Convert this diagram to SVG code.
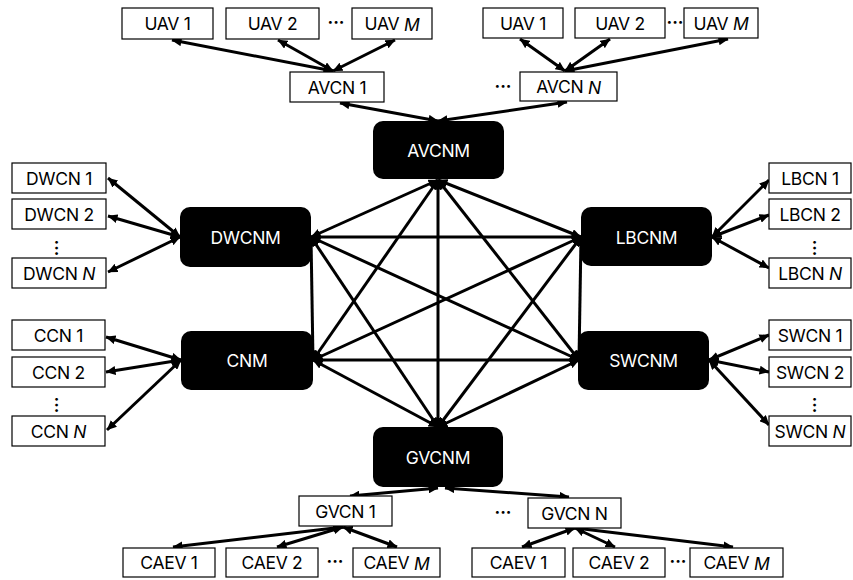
<svg xmlns="http://www.w3.org/2000/svg" width="853" height="580" viewBox="0 0 853 580">
  <defs>
    <marker id="ah" viewBox="0 0 10 9" refX="9.5" refY="4.5" markerWidth="10" markerHeight="9" markerUnits="userSpaceOnUse" orient="auto-start-reverse">
      <path d="M0,0 L10,4.5 L0,9 z" fill="#000"/>
    </marker>
    <style>
      .box { fill: #fff; stroke: #000; stroke-width: 1.2; }
      .mgr { fill: #000; }
      .t { font-family: Inter, "Liberation Sans", sans-serif; font-size: 17.5px; fill: #000; text-anchor: middle; dominant-baseline: central; letter-spacing: -0.3px; }
      .tw { font-family: Inter, "Liberation Sans", sans-serif; font-size: 17.5px; fill: #fff; text-anchor: middle; dominant-baseline: central; letter-spacing: -0.3px; }
      .dots { font-family: Inter, "Liberation Sans", sans-serif; font-size: 17px; font-weight: bold; fill: #000; text-anchor: middle; dominant-baseline: central; }
      .e { stroke: #000; stroke-width: 3; fill: none; marker-start: url(#ah); marker-end: url(#ah); }
      .it { font-style: italic; }
    </style>
  </defs>

  <!-- connectors -->
  <g id="connectors">
    <!-- manager mesh -->
    <line class="e" x1="438" y1="180" x2="438" y2="427"/>
    <line class="e" x1="438" y1="180" x2="311" y2="237"/>
    <line class="e" x1="438" y1="180" x2="581" y2="237"/>
    <line class="e" x1="438" y1="180" x2="313" y2="360"/>
    <line class="e" x1="438" y1="180" x2="579" y2="360"/>
    <line class="e" x1="311" y1="237" x2="581" y2="237"/>
    <line class="e" x1="311" y1="237" x2="313" y2="360"/>
    <line class="e" x1="311" y1="237" x2="579" y2="360"/>
    <line class="e" x1="311" y1="237" x2="438" y2="427"/>
    <line class="e" x1="581" y1="237" x2="313" y2="360"/>
    <line class="e" x1="581" y1="237" x2="579" y2="360"/>
    <line class="e" x1="581" y1="237" x2="438" y2="427"/>
    <line class="e" x1="313" y1="360" x2="579" y2="360"/>
    <line class="e" x1="313" y1="360" x2="438" y2="427"/>
    <line class="e" x1="579" y1="360" x2="438" y2="427"/>

    <!-- aerial branch -->
    <line class="e" x1="340" y1="103" x2="438" y2="121"/>
    <line class="e" x1="567" y1="102" x2="438" y2="121"/>
    <line class="e" x1="333" y1="71" x2="172" y2="40"/>
    <line class="e" x1="333" y1="71" x2="278" y2="40"/>
    <line class="e" x1="333" y1="71" x2="395" y2="40"/>
    <line class="e" x1="565" y1="71" x2="520" y2="39"/>
    <line class="e" x1="565" y1="71" x2="610" y2="39"/>
    <line class="e" x1="565" y1="71" x2="728" y2="39"/>

    <!-- DWCNM branch -->
    <line class="e" x1="180" y1="237" x2="108" y2="178"/>
    <line class="e" x1="180" y1="237" x2="108" y2="216"/>
    <line class="e" x1="180" y1="237" x2="108" y2="272"/>

    <!-- CNM branch -->
    <line class="e" x1="181" y1="360" x2="106" y2="337"/>
    <line class="e" x1="181" y1="360" x2="106" y2="372"/>
    <line class="e" x1="181" y1="360" x2="107" y2="430"/>

    <!-- LBCNM branch -->
    <line class="e" x1="712" y1="237" x2="769" y2="180"/>
    <line class="e" x1="712" y1="237" x2="769" y2="215"/>
    <line class="e" x1="712" y1="237" x2="769" y2="268"/>

    <!-- SWCNM branch -->
    <line class="e" x1="709" y1="360" x2="769" y2="335"/>
    <line class="e" x1="709" y1="360" x2="769" y2="372"/>
    <line class="e" x1="709" y1="360" x2="769" y2="425"/>

    <!-- ground branch -->
    <line class="e" x1="438" y1="488" x2="350" y2="496"/>
    <line class="e" x1="445" y1="488" x2="569" y2="497"/>
    <line class="e" x1="343" y1="527" x2="173" y2="547"/>
    <line class="e" x1="343" y1="527" x2="277" y2="547"/>
    <line class="e" x1="343" y1="527" x2="397" y2="547"/>
    <line class="e" x1="575" y1="528" x2="522" y2="547"/>
    <line class="e" x1="575" y1="528" x2="615" y2="547"/>
    <line class="e" x1="575" y1="528" x2="733" y2="547"/>
  </g>

  <!-- managers -->
  <g id="AVCNM"><rect class="mgr" x="373" y="121" width="131" height="58" rx="10"/><text class="tw" x="438.5" y="150">AVCNM</text></g>
  <g id="DWCNM"><rect class="mgr" x="180" y="207" width="131" height="60" rx="10"/><text class="tw" x="245.5" y="237">DWCNM</text></g>
  <g id="LBCNM"><rect class="mgr" x="581" y="207" width="131" height="59" rx="10"/><text class="tw" x="646.5" y="237">LBCNM</text></g>
  <g id="CNM"><rect class="mgr" x="181" y="331" width="132" height="59" rx="10"/><text class="tw" x="247" y="360">CNM</text></g>
  <g id="SWCNM"><rect class="mgr" x="578" y="331" width="131" height="59" rx="10"/><text class="tw" x="643.5" y="360">SWCNM</text></g>
  <g id="GVCNM"><rect class="mgr" x="373" y="427" width="130" height="60" rx="10"/><text class="tw" x="438" y="457">GVCNM</text></g>

  <!-- aerial nodes -->
  <g id="AVCN1"><rect class="box" x="290" y="72" width="94" height="30"/><text class="t" x="337" y="87">AVCN 1</text></g>
  <g id="AVCNN"><rect class="box" x="520" y="72" width="97" height="29"/><text class="t" x="568.5" y="86.5">AVCN <tspan class="it">N</tspan></text></g>
  <text class="dots" x="503" y="86">···</text>
  <g id="UAV1a"><rect class="box" x="122" y="8" width="91" height="31"/><text class="t" x="167.5" y="23.5">UAV 1</text></g>
  <g id="UAV2a"><rect class="box" x="226" y="8" width="93" height="31"/><text class="t" x="272.5" y="23.5">UAV 2</text></g>
  <text class="dots" x="336" y="22">···</text>
  <g id="UAVMa"><rect class="box" x="352" y="8" width="80" height="31"/><text class="t" x="392" y="23.5">UAV <tspan class="it">M</tspan></text></g>
  <g id="UAV1b"><rect class="box" x="483" y="8" width="80" height="30"/><text class="t" x="523" y="23">UAV 1</text></g>
  <g id="UAV2b"><rect class="box" x="575" y="8" width="90" height="30"/><text class="t" x="620" y="23">UAV 2</text></g>
  <text class="dots" x="675" y="22">···</text>
  <g id="UAVMb"><rect class="box" x="684" y="8" width="74" height="30"/><text class="t" x="721" y="23">UAV <tspan class="it">M</tspan></text></g>

  <!-- DW nodes -->
  <g id="DWCN1"><rect class="box" x="12" y="163" width="94" height="30"/><text class="t" x="59" y="178">DWCN 1</text></g>
  <g id="DWCN2"><rect class="box" x="12" y="199" width="94" height="30"/><text class="t" x="59" y="214">DWCN 2</text></g>
  <text class="dots" x="57" y="248" transform="rotate(90 57 248)">···</text>
  <g id="DWCNN"><rect class="box" x="12" y="258" width="94" height="30"/><text class="t" x="59" y="273">DWCN <tspan class="it">N</tspan></text></g>

  <!-- CC nodes -->
  <g id="CCN1"><rect class="box" x="12" y="320" width="93" height="30"/><text class="t" x="58.5" y="335">CCN 1</text></g>
  <g id="CCN2"><rect class="box" x="12" y="357" width="93" height="30"/><text class="t" x="58.5" y="372">CCN 2</text></g>
  <text class="dots" x="57" y="405" transform="rotate(90 57 405)">···</text>
  <g id="CCNN"><rect class="box" x="12" y="416" width="93" height="30"/><text class="t" x="58.5" y="431">CCN <tspan class="it">N</tspan></text></g>

  <!-- LB nodes -->
  <g id="LBCN1"><rect class="box" x="769" y="163" width="82" height="30"/><text class="t" x="810" y="178">LBCN 1</text></g>
  <g id="LBCN2"><rect class="box" x="769" y="199" width="82" height="30"/><text class="t" x="810" y="214">LBCN 2</text></g>
  <text class="dots" x="815" y="248" transform="rotate(90 815 248)">···</text>
  <g id="LBCNN"><rect class="box" x="769" y="258" width="82" height="30"/><text class="t" x="810" y="273">LBCN <tspan class="it">N</tspan></text></g>

  <!-- SW nodes -->
  <g id="SWCN1"><rect class="box" x="769" y="320" width="82" height="30"/><text class="t" x="810" y="335">SWCN 1</text></g>
  <g id="SWCN2"><rect class="box" x="769" y="357" width="82" height="30"/><text class="t" x="810" y="372">SWCN 2</text></g>
  <text class="dots" x="815" y="405" transform="rotate(90 815 405)">···</text>
  <g id="SWCNN"><rect class="box" x="769" y="416" width="82" height="30"/><text class="t" x="810" y="431">SWCN <tspan class="it">N</tspan></text></g>

  <!-- ground nodes -->
  <g id="GVCN1"><rect class="box" x="299" y="496" width="93" height="30"/><text class="t" x="345.5" y="511">GVCN 1</text></g>
  <text class="dots" x="503" y="512">···</text>
  <g id="GVCNN"><rect class="box" x="528" y="498" width="93" height="30"/><text class="t" x="574.5" y="513">GVCN N</text></g>
  <g id="CAEV1a"><rect class="box" x="123" y="548" width="92" height="29"/><text class="t" x="169" y="562.5">CAEV 1</text></g>
  <g id="CAEV2a"><rect class="box" x="226" y="548" width="92" height="29"/><text class="t" x="272" y="562.5">CAEV 2</text></g>
  <text class="dots" x="335" y="561">···</text>
  <g id="CAEVMa"><rect class="box" x="353" y="548" width="87" height="29"/><text class="t" x="396.5" y="562.5">CAEV <tspan class="it">M</tspan></text></g>
  <g id="CAEV1b"><rect class="box" x="472" y="548" width="93" height="29"/><text class="t" x="518.5" y="562.5">CAEV 1</text></g>
  <g id="CAEV2b"><rect class="box" x="573" y="548" width="92" height="29"/><text class="t" x="619" y="562.5">CAEV 2</text></g>
  <text class="dots" x="678" y="561">···</text>
  <g id="CAEVMb"><rect class="box" x="690" y="548" width="93" height="29"/><text class="t" x="736.5" y="562.5">CAEV <tspan class="it">M</tspan></text></g>
</svg>
